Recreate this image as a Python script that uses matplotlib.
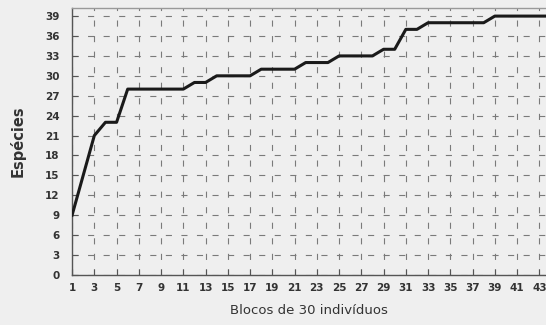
import matplotlib
matplotlib.use("Agg")
import matplotlib.pyplot as plt

blocks = list(range(1, 45))
species = [9, 15, 21, 23, 23, 28, 28, 28, 28, 28,
           28, 29, 29, 30, 30, 30, 30, 31, 31, 31,
           31, 32, 32, 32, 33, 33, 33, 33, 34, 34,
           37, 37, 38, 38, 38, 38, 38, 38, 39, 39,
           39, 39, 39, 39]
xticks = list(range(1, 44, 2))
yticks = list(range(0, 40, 3))

bg = "#efefef"
fig = plt.figure(figsize=(5.46, 3.25), dpi=100, facecolor=bg)
ax = fig.add_axes([0.132, 0.154, 0.868, 0.821])
ax.set_facecolor(bg)

ax.plot(blocks, species, color="#1a1a1a", linewidth=2.2, solid_joinstyle="round", zorder=3)

ax.set_xlim(1, 43.6)
ax.set_ylim(0, 40.2)
ax.set_xticks(xticks)
ax.set_yticks(yticks)
ax.tick_params(axis="both", direction="in", length=4, width=0.8, color="#555555",
               labelsize=7.5, labelcolor="#333333")
ax.tick_params(axis="y", pad=9)
ax.tick_params(axis="x", pad=6)
for lab in ax.get_xticklabels() + ax.get_yticklabels():
    lab.set_fontweight("bold")

ax.grid(True, color="#7a7a7a", linewidth=0.8, linestyle=(0, (5.5, 8.5)))

for s in ["left", "bottom"]:
    ax.spines[s].set_color("#555555")
    ax.spines[s].set_linewidth(1.0)
ax.spines["top"].set_color("#999999")
ax.spines["top"].set_linewidth(1.0)
ax.spines["right"].set_visible(False)

ax.set_xlabel("Blocos de 30 indivíduos", fontsize=9.5, color="#333333", labelpad=8)
ax.set_ylabel("Espécies", fontsize=10.5, fontweight="bold", color="#333333", labelpad=14)

fig.savefig("out.png", dpi=100, facecolor=bg)
